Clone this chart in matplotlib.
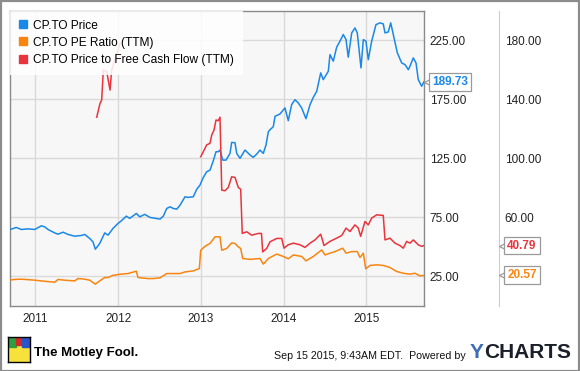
import matplotlib
matplotlib.use("Agg")
import matplotlib.pyplot as plt
import matplotlib.transforms as mtrans
from matplotlib.lines import Line2D
from matplotlib.patches import Rectangle

# Data (dates as decimal years)
price_t = [2010.670, 2010.770, 2010.831, 2010.912, 2010.993, 2011.073, 2011.114, 2011.153,
           2011.234, 2011.274, 2011.335, 2011.395, 2011.476, 2011.556, 2011.597, 2011.657,
           2011.697, 2011.725, 2011.778, 2011.839, 2011.879, 2011.939, 2011.999, 2012.039,
           2012.100, 2012.141, 2012.221, 2012.262, 2012.322, 2012.386, 2012.507, 2012.547,
           2012.588, 2012.628, 2012.668, 2012.709, 2012.749, 2012.809, 2012.849, 2012.909,
           2012.950, 2012.990, 2013.030, 2013.071, 2013.111, 2013.151, 2013.184, 2013.211,
           2013.232, 2013.265, 2013.305, 2013.353, 2013.373, 2013.413, 2013.434, 2013.474,
           2013.534, 2013.595, 2013.634, 2013.676, 2013.715, 2013.755, 2013.788, 2013.816,
           2013.836, 2013.876, 2013.897, 2013.957, 2014.017, 2014.057, 2014.098, 2014.138,
           2014.178, 2014.219, 2014.271, 2014.320, 2014.360, 2014.401, 2014.449, 2014.480,
           2014.541, 2014.561, 2014.601, 2014.642, 2014.682, 2014.722, 2014.755, 2014.782,
           2014.824, 2014.863, 2014.891, 2014.936, 2014.964, 2014.996, 2015.024, 2015.065,
           2015.117, 2015.166, 2015.205, 2015.226, 2015.266, 2015.295, 2015.335, 2015.375,
           2015.428, 2015.468, 2015.508, 2015.528, 2015.568, 2015.601, 2015.628, 2015.669,
           2015.697]
price_v = [64.0, 66.3, 64.6, 65.1, 64.6, 67.7, 66.8, 64.6,
           61.7, 60.6, 62.3, 60.4, 58.9, 59.5, 60.4, 57.0,
           54.1, 47.9, 52.7, 61.7, 59.8, 65.5, 69.7, 71.9,
           75.9, 74.0, 78.2, 75.3, 77.4, 74.8, 73.4, 75.9,
           82.4, 83.8, 82.4, 81.8, 85.2, 92.3, 91.8, 92.3,
           98.6, 102.2, 108.7, 113.5, 114.9, 122.8, 130.5, 130.5,
           131.9, 123.4, 123.4, 129.1, 138.4, 138.1, 129.1, 124.9,
           131.9, 127.7, 125.7, 128.5, 131.9, 129.1, 136.2, 147.4,
           149.1, 151.7, 160.5, 162.5, 167.6, 156.8, 170.4, 174.6,
           171.8, 167.6, 158.5, 170.4, 176.6, 181.7, 197.3, 191.6,
           198.7, 212.8, 207.2, 219.1, 224.2, 229.8, 225.5, 210.6,
           231.2, 235.4, 231.2, 201.5, 225.5, 224.2, 208.5, 224.2,
           238.2, 239.7, 238.8, 231.2, 232.0, 239.7, 227.0, 214.3,
           205.7, 204.3, 200.0, 203.0, 210.0, 205.7, 191.6, 186.0,
           189.73]

pe_t = [2010.670, 2010.751, 2010.831, 2010.993, 2011.073, 2011.234, 2011.274, 2011.355,
        2011.476, 2011.516, 2011.597, 2011.657, 2011.725, 2011.778, 2011.839, 2011.879,
        2011.939, 2012.039, 2012.120, 2012.221, 2012.241, 2012.362, 2012.426, 2012.507,
        2012.588, 2012.749, 2012.809, 2012.909, 2012.982, 2012.999, 2013.051, 2013.111,
        2013.172, 2013.232, 2013.253, 2013.313, 2013.373, 2013.413, 2013.453, 2013.482,
        2013.506, 2013.595, 2013.715, 2013.755, 2013.816, 2013.917, 2013.997, 2014.057,
        2014.118, 2014.219, 2014.271, 2014.360, 2014.461, 2014.501, 2014.561, 2014.622,
        2014.715, 2014.755, 2014.824, 2014.891, 2014.924, 2014.964, 2014.993, 2015.045,
        2015.126, 2015.205, 2015.286, 2015.367, 2015.447, 2015.528, 2015.588, 2015.649,
        2015.697]
pe_v = [17.3, 17.8, 18.0, 17.3, 16.8, 15.9, 17.8, 17.3,
        16.8, 18.4, 18.0, 17.3, 14.6, 16.8, 19.1, 19.1,
        20.6, 21.4, 21.8, 23.4, 19.1, 18.4, 18.4, 18.9,
        21.8, 21.8, 22.9, 23.6, 25.2, 37.6, 40.3, 42.2,
        46.7, 46.7, 37.6, 38.8, 42.6, 42.2, 39.9, 38.8,
        32.0, 31.4, 32.0, 28.2, 32.0, 35.0, 33.4, 31.8,
        34.4, 33.4, 30.4, 33.4, 37.8, 34.4, 35.6, 36.7,
        39.0, 35.6, 36.7, 36.7, 32.7, 35.6, 25.0, 27.3,
        27.7, 27.3, 25.9, 23.2, 22.0, 21.4, 22.0, 20.2,
        20.57]

# price to free cash flow has a gap in 2012 (no value shown)
pfcf_t = [2011.742, 2011.782, 2011.802, 2011.822, 2011.863, 2011.903, 2011.923, 2011.963,
          2012.003, 2012.024, float("nan"),
          2012.999, 2013.030, 2013.071, 2013.111, 2013.132, 2013.160, 2013.184, 2013.211,
          2013.232, 2013.253, 2013.292, 2013.332, 2013.373, 2013.413, 2013.453, 2013.482,
          2013.501, 2013.555, 2013.615, 2013.695, 2013.733, 2013.748, 2013.796, 2013.836,
          2013.917, 2013.978, 2014.005, 2014.057, 2014.118, 2014.199, 2014.259, 2014.320,
          2014.380, 2014.449, 2014.489, 2014.561, 2014.642, 2014.703, 2014.755, 2014.803,
          2014.863, 2014.903, 2014.932, 2014.984, 2015.024, 2015.065, 2015.126, 2015.205,
          2015.226, 2015.286, 2015.347, 2015.407, 2015.447, 2015.488, 2015.528, 2015.568,
          2015.628, 2015.669, 2015.697]
pfcf_v = [127.8, 137.2, 139.4, 159.8, 158.7, 146.2, 159.8, 166.6,
          173.9, 178.0, float("nan"),
          101.0, 104.4, 109.0, 110.1, 115.7, 119.1, 125.9, 125.4,
          127.8, 78.4, 77.9, 80.2, 87.4, 87.0, 80.2, 78.9,
          49.0, 50.1, 47.8, 49.0, 49.0, 36.5, 38.8, 43.3,
          45.6, 45.6, 39.0, 41.3, 42.4, 41.3, 39.5, 42.4,
          44.6, 48.5, 40.8, 43.6, 45.8, 47.6, 52.6, 50.3,
          54.8, 52.6, 47.0, 57.1, 54.8, 59.4, 61.6, 61.2,
          44.6, 45.8, 42.4, 40.8, 39.0, 43.6, 42.4, 44.6,
          41.3, 40.2, 40.79]

years = [2011, 2012, 2013, 2014, 2015]
left_ticks = [25, 75, 125, 175, 225]
right_ticks = [20, 60, 100, 140, 180]

labels = ["CP.TO Price", "CP.TO PE Ratio (TTM)", "CP.TO Price to Free Cash Flow (TTM)"]
colors = ["#1a88e8", "#f98510", "#e9343c"]

font = ["Liberation Sans", "DejaVu Sans"]
plt.rcParams["font.family"] = font

W, H = 580, 371
fig = plt.figure(figsize=(W / 100, H / 100), dpi=100)
fig.patch.set_facecolor("white")
fig.add_artist(Rectangle((0.5 / W, 0.5 / H), 1 - 1.5 / W, 1 - 1.5 / H, transform=fig.transFigure,
                         fill=False, ec="#8c8c8c", lw=1.6))

ax = fig.add_axes([10 / W, 65.3 / H, 414.3 / W, 295 / H])
ax.set_facecolor("#f7f7f7")
ax.plot(price_t, price_v, color=colors[0], lw=1.1, zorder=3)
ax.set_xlim(2010.694, 2015.701)
ax.set_ylim(0, 250)
ax.set_xticks(years)
ax.set_xticklabels([str(y) for y in years])
ax.set_yticks(left_ticks)
ax.set_yticklabels([f"{v:.2f}" for v in left_ticks])
ax.grid(True, color="#d9d9d9", lw=1)
ax.set_axisbelow(True)
for s in ax.spines.values():
    s.set_color("#8a8a8a")
    s.set_linewidth(1)

ax2 = ax.twinx()
# twinx moves the first axis ticks back to the left
ax.yaxis.tick_right()
ax.tick_params(axis="both", length=0, labelsize=8.5, colors="#222222")
ax.tick_params(axis="x", pad=5)
ax.tick_params(axis="y", pad=4)

ax2.set_ylim(0, 200)
ax2.plot(pe_t, pe_v, color=colors[1], lw=1.1)
ax2.plot(pfcf_t, pfcf_v, color=colors[2], lw=1.1)
ax2.set_yticks(right_ticks)
ax2.set_yticklabels([f"{v:.2f}" for v in right_ticks])
spine_pos = (499.3 - 10) / 414.3
ax2.spines["right"].set_position(("axes", spine_pos))
ax2.spines["right"].set_color("#cccccc")
for k in ["left", "top", "bottom"]:
    ax2.spines[k].set_visible(False)
ax2.tick_params(axis="y", length=0, labelsize=8.5, colors="#222222", pad=4)

# legend
handles = [Line2D([], [], marker="s", ls="none", ms=5.2, color=c) for c in colors]
leg = ax2.legend(handles, labels, loc="upper left", borderaxespad=0, fontsize=8.6,
                 frameon=True, fancybox=False, framealpha=0.85, facecolor="white",
                 edgecolor="none", handlelength=0.7, handletextpad=0.45,
                 labelspacing=0.42, borderpad=0.75)
leg.set_zorder(10)


# end value flags
def flag(axis, xpos, value, color):
    tr = axis.get_yaxis_transform()
    off = mtrans.ScaledTranslation(3.6 / 100, 0, fig.dpi_scale_trans)
    axis.plot([xpos], [value], marker="<", ms=5.2, mfc="white", mec="#9a9a9a", mew=0.9,
              transform=tr + off, clip_on=False, zorder=11)
    axis.annotate(f"{value:.2f}", xy=(xpos, value), xycoords=tr, xytext=(8, 0),
                  textcoords="offset pixels", ha="left", va="center", fontsize=8.5,
                  fontweight="bold", color=color, annotation_clip=False, zorder=12,
                  bbox=dict(boxstyle="square,pad=0.25", fc="white", ec="#9a9a9a", lw=0.9))


flag(ax, 1.0, price_v[-1], colors[0])
flag(ax2, spine_pos, pfcf_v[-1], colors[2])
flag(ax2, spine_pos, pe_v[-1], colors[1])

# footer
logo = fig.add_axes([8 / W, (H - 362) / H, 22 / W, 25 / H])
logo.set_xlim(0, 1)
logo.set_ylim(0, 1)
logo.set_xticks([])
logo.set_yticks([])
logo.set_facecolor("#f6e23a")
logo.add_patch(Rectangle((0, 0.6), 0.35, 0.4, color="#2e9e3e"))
logo.add_patch(Rectangle((0.35, 0.7), 0.3, 0.3, color="#d02a2a"))
logo.add_patch(Rectangle((0.65, 0.6), 0.35, 0.4, color="#2a55c8"))
for s in logo.spines.values():
    s.set_color("black")
    s.set_linewidth(1)

fig.text(34 / W, 1 - 353 / H, "The Motley Fool.", fontsize=9.5, fontweight="bold",
         family=["Liberation Sans Narrow", "Liberation Sans"], ha="left", va="center", color="black")
fig.text(466 / W, 1 - 356 / H, "Sep 15 2015, 9:43AM EDT.  Powered by", fontsize=7.7,
         ha="right", va="center", color="#111111")
fig.text(470 / W, 1 - 353 / H, "Y", fontsize=15, fontweight="bold", ha="left",
         va="center", color="#3d6db5")
fig.text(484 / W, 1 - 353 / H, "CHARTS", fontsize=15, fontweight="bold", ha="left",
         va="center", color="#1b1f2a")

fig.savefig("out.png", dpi=100)
